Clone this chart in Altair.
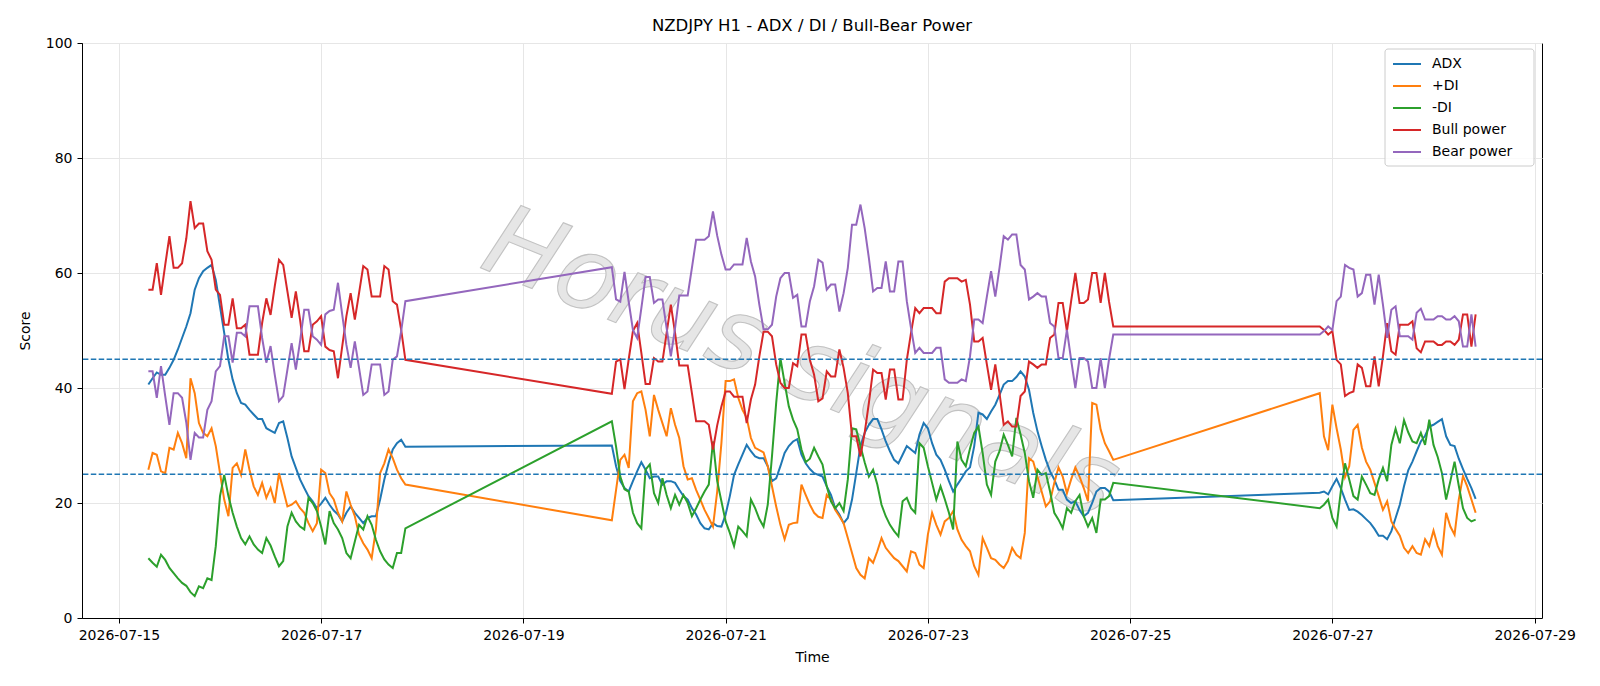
import altair as alt
import pandas as pd

# Hourly bars: each trading session is (first bar, number of bars)
SESSIONS = [("2026-07-15 07:00", 62), ("2026-07-19 21:00", 120), ("2026-07-26 21:00", 38)]

ADX = [
    40.6, 41.7, 42.7, 42.3, 42.3, 43.5, 44.9, 46.7, 48.7, 50.7, 53.0, 57.1, 59.1, 60.3, 60.9,
    61.4, 58.8, 54.2, 49.6, 44.9, 41.5, 39.1, 37.4, 37.1, 36.2, 35.4, 34.6, 34.6, 33.0, 32.6,
    32.2, 33.9, 34.2, 31.3, 28.1, 26.1, 24.1, 22.6, 21.2, 20.3, 19.1, 19.9, 20.9, 19.7, 18.7,
    18.0, 16.8, 18.3, 19.4, 18.3, 17.4, 16.5, 17.4, 17.7, 17.7, 20.6, 24.1, 26.9, 29.3, 30.4,
    31.0, 29.8,
    30.0, 26.4, 23.8, 22.6, 22.0, 23.8, 25.5, 27.1, 25.8, 24.3, 24.6, 24.6, 23.2, 23.8, 23.8,
    23.5, 22.3, 21.2, 20.6, 19.1, 18.0, 16.5, 15.6, 15.4, 16.5, 16.0,
    15.9, 18.0, 21.2, 24.9, 26.7, 28.4, 30.1, 29.0, 28.1, 27.8, 27.8, 26.4, 23.8, 24.3, 26.4,
    28.7, 29.9, 30.7, 31.1, 28.4, 26.9, 25.9, 25.2, 24.9, 24.6, 22.9, 21.4, 19.1, 18.0, 16.5,
    17.4, 20.6, 25.2, 29.9, 32.2, 33.6, 34.6, 34.6, 32.8, 30.7, 29.0, 27.5, 26.9, 28.4, 29.9,
    29.3, 28.7, 31.9, 33.9, 33.0, 30.4, 28.4, 27.5, 25.8, 23.8, 22.0, 23.2, 24.3, 25.5, 26.2,
    29.9, 35.7, 35.4, 34.6, 35.9, 37.1, 38.8, 40.6, 41.2, 41.2, 41.9, 42.9, 42.0, 39.7, 35.7,
    32.5, 29.9, 27.5, 25.5, 24.1, 22.3, 22.3, 20.6, 20.0, 20.3, 18.8, 17.7, 18.3, 20.0, 22.0,
    22.6, 22.6, 22.0, 20.5,
    21.8, 22.0, 21.5, 22.9, 24.2, 22.6, 20.6, 18.8, 18.9, 18.5, 17.9, 17.2, 16.5, 15.5, 14.3,
    14.3, 13.7, 15.1, 17.4, 19.7, 22.9, 25.7, 27.2, 29.0, 30.7, 31.7, 33.3, 33.6, 34.1, 34.6,
    31.6, 30.1, 29.9, 27.7, 25.9, 24.2, 22.6, 20.7,
]

PLUS_DI = [
    25.8, 28.7, 28.4, 25.5, 25.2, 29.6, 29.3, 32.2, 30.4, 27.8, 41.7, 39.1, 33.9, 32.2, 31.6,
    33.0, 29.9, 25.2, 20.6, 17.7, 26.1, 26.9, 24.9, 29.3, 25.8, 22.9, 21.4, 23.5, 20.9, 22.6,
    20.0, 25.2, 22.3, 19.4, 19.7, 20.3, 19.1, 18.3, 16.5, 15.1, 16.5, 25.8, 25.2, 21.7, 20.6,
    18.3, 16.8, 22.0, 19.7, 17.7, 14.5, 13.0, 11.9, 10.4, 15.4, 25.2, 26.9, 29.3, 27.8, 25.8,
    24.3, 23.2,
    17.0, 22.3, 27.5, 28.4, 26.1, 37.7, 39.1, 39.4, 36.2, 31.6, 38.8, 36.2, 33.9, 31.6, 36.5,
    33.6, 31.3, 26.4, 24.1, 24.3, 22.3, 20.6, 18.8, 17.4, 15.9, 22.0,
    30.4, 41.2, 41.2, 41.5, 38.3, 36.2, 34.8, 31.3, 29.6, 29.2, 28.8, 26.4, 22.9, 19.4, 16.2,
    13.7, 16.2, 16.5, 16.6, 23.2, 21.4, 19.7, 18.3, 17.6, 17.4, 21.4, 20.6, 18.8, 17.7, 16.5,
    13.9, 11.3, 8.7, 7.5, 6.9, 10.4, 9.6, 11.6, 13.9, 12.2, 11.3, 10.4, 9.9, 9.0, 8.1,
    11.6, 11.3, 9.3, 8.7, 14.5, 18.3, 16.2, 14.5, 16.8, 17.4, 18.6, 15.4, 13.6, 12.5, 11.6,
    9.0, 7.5, 13.9, 12.2, 10.4, 10.1, 9.3, 8.7, 9.9, 12.2, 11.0, 10.4, 14.8, 27.8, 27.2,
    24.6, 22.0, 19.4, 20.3, 23.5, 26.2, 24.6, 21.7, 24.1, 26.2, 24.6, 22.6, 20.3, 37.4, 37.1,
    32.8, 30.4, 29.0, 27.5,
    39.1, 31.6, 29.2, 37.1, 33.0, 29.3, 24.5, 26.4, 32.7, 33.6, 29.6, 27.2, 25.8, 23.5, 21.2,
    18.8, 20.3, 16.8, 15.5, 14.3, 12.2, 11.3, 12.5, 11.3, 11.0, 13.7, 12.5, 15.2, 12.5, 11.0,
    18.3, 15.9, 14.5, 20.6, 24.7, 22.9, 20.6, 18.3,
]

MINUS_DI = [
    10.4, 9.6, 8.9, 11.0, 10.1, 8.7, 7.8, 6.9, 6.1, 5.6, 4.5, 3.8, 5.5, 5.2, 6.9,
    6.6, 12.5, 21.2, 24.9, 21.2, 18.3, 15.9, 13.9, 12.8, 14.2, 12.8, 11.9, 11.3, 13.9, 12.6,
    10.7, 9.0, 9.9, 15.9, 18.3, 16.8, 15.9, 15.4, 20.9, 20.0, 18.6, 15.9, 12.8, 18.6, 16.5,
    15.4, 13.9, 11.3, 10.4, 13.3, 16.2, 15.4, 17.7, 16.2, 13.6, 11.6, 10.2, 9.3, 8.7, 11.3,
    11.3, 15.6,
    34.2, 29.8, 24.6, 22.4, 22.0, 18.3, 16.5, 15.6, 25.8, 26.7, 21.7, 20.0, 24.3, 21.4, 19.1,
    21.4, 19.7, 21.4, 20.0, 17.7, 19.1, 20.6, 22.0, 23.2, 30.7, 23.8,
    20.3, 16.8, 14.8, 12.5, 15.9, 15.1, 14.2, 20.6, 19.1, 17.2, 15.9, 19.7, 28.1, 37.4, 45.2,
    40.9, 36.8, 34.5, 32.8, 29.3, 27.1, 27.7, 29.6, 28.1, 26.7, 22.9, 20.3, 19.1, 20.0, 18.6,
    24.1, 33.0, 32.8, 29.9, 27.1, 24.6, 25.8, 23.2, 19.7, 17.7, 16.2, 15.1, 14.2, 20.3, 20.9,
    19.1, 18.3, 30.4, 29.6, 26.4, 23.5, 20.6, 22.9, 20.7, 18.3, 15.4, 30.7, 27.5, 26.4, 29.5,
    32.2, 33.3, 28.7, 23.2, 21.4, 27.2, 29.0, 31.9, 30.1, 28.1, 34.8, 31.9, 28.7, 23.8, 20.9,
    25.8, 24.9, 25.2, 22.0, 18.3, 17.1, 15.6, 19.1, 18.3, 20.3, 21.4, 17.7, 15.9, 17.4, 14.8,
    20.6, 20.6, 21.2, 23.5,
    19.1, 19.7, 20.6, 17.4, 15.9, 22.0, 26.9, 24.1, 21.2, 20.6, 24.6, 23.2, 21.7, 21.4, 24.1,
    26.1, 23.8, 30.1, 32.9, 30.4, 34.4, 32.3, 30.7, 30.4, 32.2, 30.1, 34.5, 30.1, 28.0, 25.2,
    20.6, 23.8, 27.2, 23.0, 19.1, 17.4, 16.8, 17.1,
]

BULL = [
    57.1, 57.1, 61.7, 56.2, 61.4, 66.4, 60.9, 60.9, 61.7, 66.0, 72.5, 67.8, 68.6, 68.6, 63.8,
    62.3, 57.1, 56.2, 51.0, 51.0, 55.6, 50.4, 50.4, 51.0, 45.8, 45.8, 45.8, 51.3, 55.6, 52.7,
    57.7, 62.3, 61.4, 56.8, 52.2, 56.8, 51.9, 46.4, 46.4, 51.0, 51.6, 52.5, 47.2, 46.6, 46.4,
    41.7, 47.2, 52.5, 56.5, 51.9, 56.5, 61.2, 60.6, 55.9, 55.9, 55.9, 61.2, 60.6, 55.1, 54.5,
    50.1, 44.9,
    39.0, 44.6, 45.0, 39.8, 45.0, 49.9, 51.3, 46.1, 40.7, 40.7, 45.2, 44.6, 44.6, 49.6, 54.5,
    49.6, 43.9, 43.9, 43.9, 39.1, 34.2, 34.2, 34.2, 33.6, 29.3,
    33.5, 36.8, 39.4, 39.4, 38.5, 38.5, 38.5, 33.9, 38.0, 40.6, 45.5, 49.8, 49.8, 49.0, 44.1,
    40.9, 40.0, 40.0, 44.3, 43.8, 49.3, 49.3, 44.9, 42.3, 37.7, 38.2, 42.9, 42.0, 42.0, 46.7,
    43.5,
    39.1, 31.6, 31.6, 28.1, 32.2, 37.4, 43.2, 42.6, 42.6, 38.0, 43.2, 43.2, 38.0, 38.0, 44.9,
    49.6, 53.9, 53.0, 53.9, 53.9, 53.9, 53.0, 53.0, 58.5, 59.1, 59.1, 59.1, 58.5, 58.8, 54.5,
    48.1, 48.1, 48.7, 44.1, 39.7, 44.1, 39.1, 33.6, 34.2, 33.3, 33.3, 38.6, 39.4, 44.6, 44.1,
    43.5, 44.1, 44.1, 48.7, 49.3, 54.8, 54.8, 49.9, 55.1, 60.0, 54.8, 54.8, 55.4, 60.0, 60.0,
    54.8, 60.0, 55.0, 50.7,
    50.7, 50.1, 49.3, 49.9, 44.9, 44.1, 38.6, 39.1, 39.4, 44.1, 43.5, 40.3, 40.3, 45.5, 40.3,
    45.5, 51.3, 46.4, 45.8, 51.0, 51.0, 51.0, 51.6, 46.9, 46.2, 48.1, 48.1, 48.1, 47.5, 47.5,
    48.1, 48.1, 47.5, 48.4, 52.8, 52.8, 47.2, 52.8,
]

BEAR = [
    42.9, 42.9, 38.3, 43.8, 38.6, 33.6, 39.1, 39.1, 38.3, 34.0, 27.5, 32.2, 31.4, 31.4, 36.2,
    37.7, 42.9, 43.8, 49.0, 49.0, 44.4, 49.6, 49.6, 49.0, 54.2, 54.2, 54.2, 48.7, 44.4, 47.3,
    42.3, 37.7, 38.6, 43.2, 47.8, 43.2, 48.1, 53.6, 53.6, 49.0, 48.4, 47.5, 52.8, 53.4, 53.6,
    58.3, 52.8, 47.5, 43.5, 48.1, 43.5, 38.8, 39.4, 44.1, 44.1, 44.1, 38.8, 39.4, 44.9, 45.5,
    49.9, 55.1,
    61.0, 55.4, 55.0, 60.2, 55.0, 50.1, 48.7, 53.9, 59.3, 59.3, 54.8, 55.4, 55.4, 50.4, 45.5,
    50.4, 56.1, 56.1, 56.1, 60.9, 65.8, 65.8, 65.8, 66.4, 70.7,
    66.5, 63.2, 60.6, 60.6, 61.5, 61.5, 61.5, 66.1, 62.0, 59.4, 54.5, 50.2, 50.2, 51.0, 55.9,
    59.1, 60.0, 60.0, 55.7, 56.2, 50.7, 50.7, 55.1, 57.7, 62.3, 61.8, 57.1, 58.0, 58.0, 53.3,
    56.5,
    60.9, 68.4, 68.4, 71.9, 67.8, 62.6, 56.8, 57.4, 57.4, 62.0, 56.8, 56.8, 62.0, 62.0, 55.1,
    50.4, 46.1, 47.0, 46.1, 46.1, 46.1, 47.0, 47.0, 41.5, 40.9, 40.9, 40.9, 41.5, 41.2, 45.5,
    51.9, 51.9, 51.3, 55.9, 60.3, 55.9, 60.9, 66.4, 65.8, 66.7, 66.7, 61.4, 60.6, 55.4, 55.9,
    56.5, 55.9, 55.9, 51.3, 50.7, 45.2, 45.2, 50.1, 44.9, 40.0, 45.2, 45.2, 44.6, 40.0, 40.0,
    45.2, 40.0, 45.0, 49.3,
    49.3, 49.9, 50.7, 50.1, 55.1, 55.9, 61.4, 60.9, 60.6, 55.9, 56.5, 59.7, 59.7, 54.5, 59.7,
    54.5, 48.7, 53.6, 54.2, 49.0, 49.0, 49.0, 48.4, 53.1, 53.8, 51.9, 51.9, 51.9, 52.5, 52.5,
    51.9, 51.9, 52.5, 51.6, 47.2, 47.2, 52.8, 47.2,
]

SERIES_NAMES = ["ADX", "+DI", "-DI", "Bull power", "Bear power"]
SERIES_COLORS = ["#1f77b4", "#ff7f0e", "#2ca02c", "#d62728", "#9467bd"]
THRESHOLDS = [25, 45]
WATERMARK = "Horus signals"

# timestamps of the hourly bars
times = []
for start, n in SESSIONS:
    times += [t.strftime("%Y-%m-%dT%H:%M:%S") for t in pd.date_range(start, periods=n, freq="h")]

rows = []
for name, vals in zip(SERIES_NAMES, [ADX, PLUS_DI, MINUS_DI, BULL, BEAR]):
    assert len(vals) == len(times), (name, len(vals), len(times))
    for t, v in zip(times, vals):
        rows.append({"time": t, "series": name, "value": v})
df = pd.DataFrame(rows)

FONT = "DejaVu Sans"
W, H = 1460, 575

x_enc = alt.X(
    "time:T",
    title="Time",
    scale=alt.Scale(domain=[
        alt.DateTime(year=2026, month=7, date=14, hours=15, minutes=15),
        alt.DateTime(year=2026, month=7, date=29, hours=1, minutes=45),
    ]),
    axis=alt.Axis(
        values=[alt.DateTime(year=2026, month=7, date=d) for d in range(15, 30, 2)],
        format="%Y-%m-%d", labelAngle=0, labelFlush=False, titlePadding=8,
    ),
)
y_enc = alt.Y(
    "value:Q",
    title="Score",
    scale=alt.Scale(domain=[0, 100], nice=False),
    axis=alt.Axis(values=[0, 20, 40, 60, 80, 100], titlePadding=13),
)

# faint diagonal brand mark behind the series
watermark = alt.Chart(pd.DataFrame({"label": [WATERMARK]})).mark_text(
    angle=22, fontSize=100, font=FONT, fontStyle="italic",
    color="#e6e6e6", stroke="#c2c2c2", strokeWidth=1.1, align="center", baseline="middle",
).encode(x=alt.value(719), y=alt.value(322), text="label:N")

lines = alt.Chart(df).mark_line(strokeWidth=2).encode(
    x=x_enc,
    y=y_enc,
    color=alt.Color(
        "series:N",
        sort=SERIES_NAMES,
        scale=alt.Scale(domain=SERIES_NAMES, range=SERIES_COLORS),
        legend=alt.Legend(
            title=None, orient="none", legendX=1303, legendY=6,
            symbolType="M-2,0L2,0", symbolStrokeWidth=2, symbolSize=196, symbolOffset=7,
            labelFont=FONT, labelFontSize=14, labelColor="black", labelOffset=17,
            fillColor="transparent", strokeColor="transparent",
            padding=7, rowPadding=7,
        ),
    ),
)

rules = alt.Chart(pd.DataFrame({"level": THRESHOLDS})).mark_rule(
    color="#1f77b4", strokeDash=[5.5, 2.4], strokeWidth=1.3
).encode(y=alt.Y("level:Q"))

# frame drawn behind the legend entries
legend_frame = alt.Chart(pd.DataFrame({"k": [0]})).mark_rect(
    fill="white", fillOpacity=0.8, stroke="#cccccc", strokeWidth=1, cornerRadius=3
).encode(x=alt.value(1303), x2=alt.value(1452), y=alt.value(6), y2=alt.value(123))

chart = alt.layer(watermark, lines, rules, legend_frame).properties(
    width=W,
    height=H,
    title=alt.TitleParams(
        "NZDJPY H1 - ADX / DI / Bull-Bear Power",
        font=FONT, fontSize=16.5, fontWeight="normal", color="black",
        anchor="middle", frame="group", offset=2,
    ),
    padding={"left": 82, "top": 43, "right": 58, "bottom": 68},
    autosize=alt.AutoSizeParams(type="none"),
).configure_view(
    stroke="black", strokeWidth=1
).configure_axis(
    grid=True, gridColor="#e6e6e6", gridWidth=1,
    domainColor="black", tickColor="black", tickSize=5, labelPadding=5,
    labelColor="black", titleColor="black",
    labelFont=FONT, titleFont=FONT, labelFontSize=14, titleFontSize=14,
    titleFontWeight="normal",
)

chart.save("out.html", embed_options={"renderer": "svg", "actions": False})
